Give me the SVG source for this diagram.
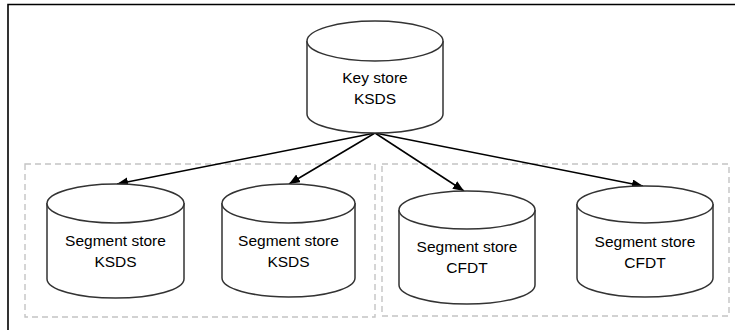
<svg xmlns="http://www.w3.org/2000/svg" width="735" height="330" viewBox="0 0 735 330">
  <style>
    .frame { fill: none; stroke: #000; stroke-width: 1.6; }
    .group { fill: none; stroke: #c4c4c4; stroke-width: 1.4; stroke-dasharray: 6 4; }
    .cyl { fill: #fff; stroke: #333; stroke-width: 1.5; }
    .edge { fill: none; stroke: #000; stroke-width: 1.5; }
    .label { font-family: "Liberation Sans", Arial, sans-serif; font-size: 15.5px; fill: #000; text-anchor: middle; }
  </style>
  <defs>
    <marker id="arrow" markerUnits="userSpaceOnUse" markerWidth="12" markerHeight="10" refX="11" refY="4.5" orient="auto">
      <path d="M0,0 L11,4.5 L0,9 z" fill="#000"/>
    </marker>
  </defs>

  <rect width="735" height="330" fill="#fff"/>

  <!-- page frame -->
  <path class="frame" d="M8,330 L8,4.5 L735,4.5"/>

  <!-- grouping boxes -->
  <rect class="group" x="25" y="164" width="350" height="153"/>
  <rect class="group" x="382" y="164" width="347" height="152"/>

  <!-- connectors -->
  <g id="connectors">
    <line class="edge" x1="375" y1="133" x2="117" y2="184" marker-end="url(#arrow)"/>
    <line class="edge" x1="375" y1="133" x2="289" y2="184" marker-end="url(#arrow)"/>
    <line class="edge" x1="375" y1="133" x2="464" y2="191" marker-end="url(#arrow)"/>
    <line class="edge" x1="375" y1="133" x2="643" y2="186" marker-end="url(#arrow)"/>
  </g>

  <!-- key store -->
  <g id="key-store">
    <path class="cyl" d="M307,41 L307,114 A68,19 0 0 0 443,114 L443,41"/>
    <ellipse class="cyl" cx="375" cy="41" rx="68" ry="20"/>
    <text class="label" x="375" y="83">Key store</text>
    <text class="label" x="375" y="104">KSDS</text>
  </g>

  <!-- segment stores -->
  <g id="segment-ksds-1">
    <path class="cyl" d="M47,203 L47,279 A68.5,19 0 0 0 184,279 L184,203"/>
    <ellipse class="cyl" cx="115.5" cy="203.5" rx="68.5" ry="19.5"/>
    <text class="label" x="115.5" y="246">Segment store</text>
    <text class="label" x="115.5" y="267">KSDS</text>
  </g>

  <g id="segment-ksds-2">
    <path class="cyl" d="M222,203 L222,278 A66.5,19 0 0 0 355,278 L355,203"/>
    <ellipse class="cyl" cx="288.5" cy="203.5" rx="66.5" ry="19.5"/>
    <text class="label" x="288.5" y="246">Segment store</text>
    <text class="label" x="288.5" y="267">KSDS</text>
  </g>

  <g id="segment-cfdt-1">
    <path class="cyl" d="M399,210 L399,285 A68,19 0 0 0 535,285 L535,210"/>
    <ellipse class="cyl" cx="467" cy="210" rx="68" ry="19"/>
    <text class="label" x="467" y="252">Segment store</text>
    <text class="label" x="467" y="273">CFDT</text>
  </g>

  <g id="segment-cfdt-2">
    <path class="cyl" d="M577,204 L577,278 A68,19 0 0 0 713,278 L713,204"/>
    <ellipse class="cyl" cx="645" cy="204.5" rx="68" ry="18.5"/>
    <text class="label" x="645" y="247">Segment store</text>
    <text class="label" x="645" y="268">CFDT</text>
  </g>
</svg>
